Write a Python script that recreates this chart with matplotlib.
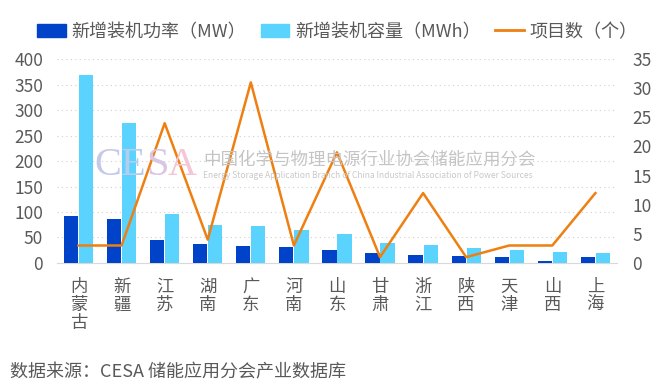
import numpy as np
import matplotlib.pyplot as plt
from matplotlib.patches import Patch
from matplotlib.lines import Line2D

plt.rcParams['font.family'] = ['Noto Sans CJK SC', 'DejaVu Sans']

provinces = ['内蒙古', '新疆', '江苏', '湖南', '广东', '河南', '山东',
             '甘肃', '浙江', '陕西', '天津', '山西', '上海']
power_mw = [92, 86, 45, 37, 33, 31, 25, 20, 16, 13, 11, 4, 11]
capacity_mwh = [369, 275, 96, 74, 72, 64, 56, 39, 35, 29, 25, 21, 20]
projects = [3, 3, 24, 4, 31, 3, 19, 1, 12, 1, 3, 3, 12]

c_dark = '#0043c8'
c_light = '#5bd3ff'
c_line = '#ee7f10'
c_text = '#595959'

W, H = 665, 389
fig = plt.figure(figsize=(6.65, 3.89), dpi=100)
ax = fig.add_axes([0.0857, 0.324, 0.842, 0.524])
ax2 = ax.twinx()

x = np.arange(len(provinces))
w = 0.33
ax.bar(x - w / 2 - 0.01, power_mw, w, color=c_dark, zorder=3)
ax.bar(x + w / 2 + 0.01, capacity_mwh, w, color=c_light, zorder=3)
ax2.plot(x, projects, color=c_line, lw=1.8, zorder=4)

ax.set_xlim(-0.5, len(provinces) - 0.5)
ax.set_ylim(0, 400)
ax.set_yticks(range(0, 401, 50))
ax2.set_ylim(0, 35)
ax2.set_yticks(range(0, 36, 5))

ax.yaxis.grid(True, ls=(0, (1, 3)), color='#d0d0d0', lw=0.8, zorder=0)
ax.set_axisbelow(True)
for a in (ax, ax2):
    for s in a.spines.values():
        s.set_visible(False)
    a.tick_params(length=0, labelsize=12.5, labelcolor=c_text)
ax.spines['bottom'].set_visible(True)
ax.spines['bottom'].set_color('#d9d9d9')
ax.tick_params(axis='y', pad=10)
ax2.tick_params(axis='y', pad=11)

ax.set_xticks(x)
ax.set_xticklabels(['\n'.join(p) for p in provinces], fontsize=12.5,
                   linespacing=1.0, color=c_text)
ax.tick_params(axis='x', pad=11)

# watermark (letters tinted from blue to pink)
wm_letters = ['C', 'E', 'S', 'A']
wm_colors = ['#c5c9e8', '#b6cdee', '#d9c6e4', '#f3c6d8']
wm_x = [94, 121, 146, 168]
for ch, col, px in zip(wm_letters, wm_colors, wm_x):
    fig.text(px / W, 1 - 175 / H, ch, fontsize=29, family='Liberation Serif',
             color=col, va='baseline')
fig.text(203 / W, 1 - 165 / H, '中国化学与物理电源行业协会储能应用分会', fontsize=12.6,
         color='#c4c4c4', va='baseline')
fig.text(203 / W, 1 - 178 / H,
         'Energy Storage Application Branch of China Industrial Association of Power Sources',
         fontsize=6.1, color='#c8c8c8', va='baseline')

handles = [Patch(color=c_dark), Patch(color=c_light),
           Line2D([0], [0], color=c_line, lw=2)]
labels = ['新增装机功率（MW）', '新增装机容量（MWh）', '项目数（个）']
fig.legend(handles, labels, loc='center left', bbox_to_anchor=(0.045, 0.918),
           ncol=3, frameon=False, fontsize=13, labelcolor=c_text,
           handlelength=1.6, handleheight=0.75, handletextpad=0.3,
           columnspacing=0.8, borderaxespad=0)

fig.text(0.015, 0.03, '数据来源：CESA 储能应用分会产业数据库', fontsize=13, color=c_text)

fig.savefig('out.png', dpi=100)
